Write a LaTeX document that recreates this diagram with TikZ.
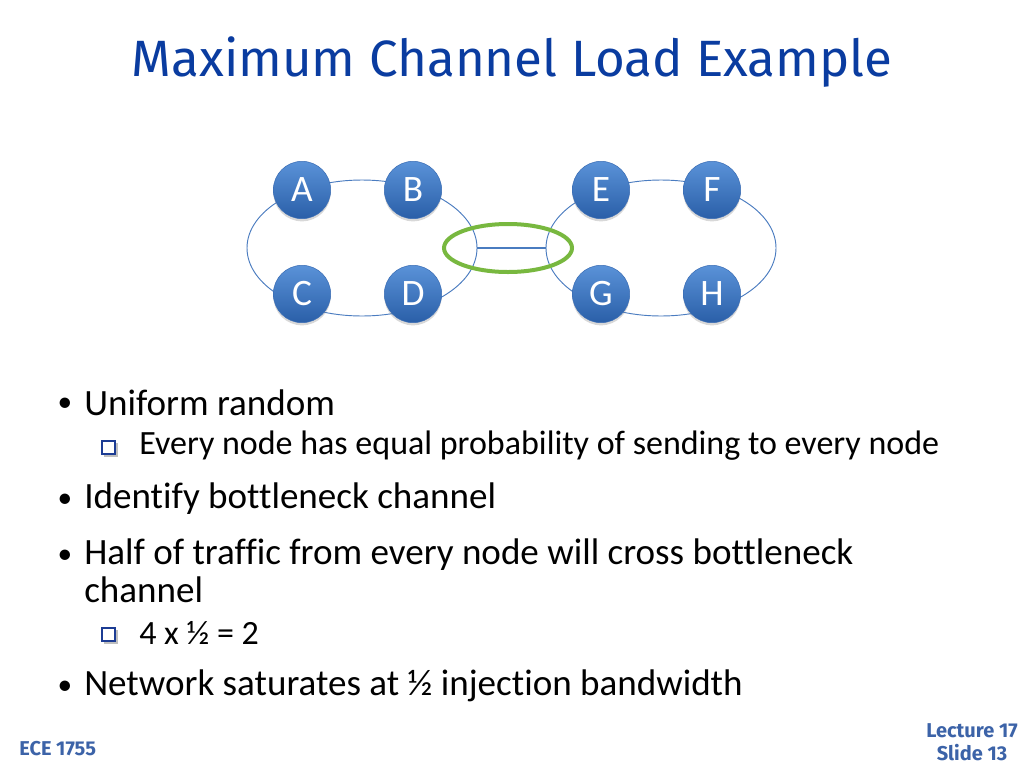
\documentclass[tikz,border=0pt]{standalone}
\usepackage{fontspec}
\setmainfont{Carlito}[Ligatures=NoCommon]
\newfontfamily\titlefont{Fira Sans}
\usetikzlibrary{shapes.geometric,shadows}
\definecolor{titleblue}{HTML}{0A3CA0}
\definecolor{ringblue}{HTML}{4A7CC0}
\definecolor{balltop}{HTML}{5A92D8}
\definecolor{ballbot}{HTML}{2A5FA8}
\definecolor{ballline}{HTML}{3A6DB5}
\definecolor{hlgreen}{HTML}{78B83F}
\definecolor{footblue}{HTML}{3C63A8}
\definecolor{boxblue}{HTML}{1C3C94}
\tikzset{
  ball/.style={circle, minimum size=43pt, inner sep=0pt, top color=balltop, bottom color=ballbot,
    draw=ballline, line width=0.4pt, text=white, font=\fontsize{28}{28}\selectfont,
    drop shadow={shadow xshift=0pt, shadow yshift=-2pt, opacity=0.3}},
  ring/.style={ellipse, draw=ringblue, line width=0.7pt, inner sep=0pt, minimum width=172.5pt, minimum height=102pt},
  hl/.style={ellipse, draw=hlgreen, line width=3pt, inner sep=0pt, minimum width=96pt, minimum height=36pt},
  body/.style={anchor=west, inner sep=0pt, font=\fontsize{27.8}{28}\selectfont},
  sub/.style={anchor=west, inner sep=0pt, font=\fontsize{25.5}{26}\selectfont},
  dot/.style={anchor=center, inner sep=0pt, font=\fontsize{22}{22}\selectfont},
  foot/.style={inner sep=0pt, text=footblue, font=\titlefont\bfseries\fontsize{15}{17}\selectfont, align=center},
}
\begin{document}
\begin{tikzpicture}[x=0.75pt,y=-0.75pt]
\useasboundingbox[fill=white] (0,0) rectangle (1024,768);
% title
\node[inner sep=0pt, text=titleblue, font=\titlefont\fontsize{38.3}{40}\selectfont] (title) at (512,62) {Maximum Channel Load Example};
% rings
\node[ring] (ring1) at (362,248) {};
\node[ring] (ring2) at (661,248) {};
\draw[ringblue, line width=2pt] (ring1.east) -- (ring2.west);
\node[hl] (hl) at (508,248) {};
% nodes
\node[ball] (A) at (302,190) {A};
\node[ball] (B) at (413,190) {B};
\node[ball] (E) at (601,190) {E};
\node[ball] (F) at (712,190) {F};
\node[ball] (C) at (302,294) {C};
\node[ball] (D) at (413,294) {D};
\node[ball] (G) at (601,294) {G};
\node[ball] (H) at (712,294) {H};
% bullets
\node[dot] (b1) at (65,405) {•};
\node[body] (t1) at (84,403) {Uniform random};
\fill[gray!50] (104,443) rectangle (118,457);
\draw[boxblue, line width=1.1pt, fill=white] (102,441) rectangle (115,454);
\node[sub] (t1a) at (139,446) {Every node has equal probability of sending to every node};
\node[dot] (b2) at (65,501) {•};
\node[body] (t2) at (84,499) {Identify bottleneck channel};
\node[dot] (b3) at (65,557) {•};
\node[body] (t3) at (84,555) {Half of traffic from every node will cross bottleneck};
\node[body] (t3b) at (84,590) {channel};
\fill[gray!50] (104,630) rectangle (118,644);
\draw[boxblue, line width=1.1pt, fill=white] (102,628) rectangle (115,641);
\node[sub] (t3a) at (139,633) {4 x ½ = 2};
\node[dot] (b4) at (65,688) {•};
\node[body] (t4) at (84,686) {Network saturates at ½ injection bandwidth};
% footer
\node[foot, anchor=west] (f1) at (19,749) {ECE 1755};
\node[foot] (f2) at (972,742) {Lecture 17\\Slide 13};
\end{tikzpicture}
\end{document}
